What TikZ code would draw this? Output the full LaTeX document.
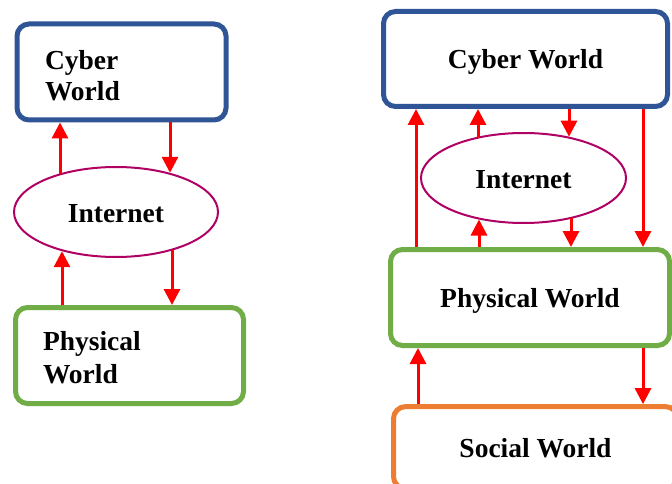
\documentclass[tikz,border=0pt]{standalone}
\usepackage{fontspec}
\setmainfont{Liberation Serif}
\usetikzlibrary{arrows.meta,shapes.geometric}
\definecolor{cwblue}{RGB}{47,85,151}
\definecolor{pwgreen}{RGB}{112,173,71}
\definecolor{swor}{RGB}{237,125,49}
\definecolor{inetc}{RGB}{176,0,100}
\tikzset{
  txt/.style={font=\fontsize{27.5}{31}\selectfont\bfseries},
  wbox/.style={txt, draw, rectangle, rounded corners=12pt, line width=5pt, fill=white},
  inet/.style={txt, draw=inetc, ellipse, line width=2pt, inner sep=0pt, text height=21.5pt, text depth=0pt},
  arr/.style={red, line width=3pt, -{Triangle[length=16pt,width=16pt]}}
}
\begin{document}
\begin{tikzpicture}[x=1pt,y=1pt]
\useasboundingbox (0,0) rectangle (672,-484);
\begin{scope}
\clip (0,0) rectangle (672,-484);
% left diagram
\node[wbox, draw=cwblue, minimum width=209pt, minimum height=96pt, text width=153pt, inner xsep=28pt, align=left] (cyberL) at (121.5,-72) {\rule{0pt}{26pt}Cyber\\World};
\node[inet, minimum width=204pt, minimum height=90pt] (inetL) at (116,-212) {Internet};
\node[wbox, draw=pwgreen, minimum width=228pt, minimum height=96pt, text width=173pt, inner xsep=27.5pt, align=left] (physL) at (129.5,-355.5) {\rule{0pt}{23pt}Physical\\[2pt]World};
\draw[arr] ([xshift=-56pt,yshift=37.6pt]inetL.center) -- ([xshift=-61.5pt]cyberL.south);
\draw[arr] ([xshift=48.5pt]cyberL.south) -- ([xshift=54pt,yshift=39.2pt]inetL.center);
\draw[arr] ([xshift=-67.5pt]physL.north) -- ([xshift=-54pt,yshift=-39.2pt]inetL.center);
\draw[arr] ([xshift=56pt,yshift=-37.6pt]inetL.center) -- ([xshift=42.5pt]physL.north);
% right diagram
\node[wbox, draw=cwblue, minimum width=284pt, minimum height=95pt, text depth=-2pt] (cyberR) at (525.5,-59) {Cyber World};
\node[inet, minimum width=205pt, minimum height=90pt] (inetR) at (523.5,-178) {Internet};
\node[wbox, draw=pwgreen, minimum width=279pt, minimum height=96pt, text depth=-1pt] (physR) at (530,-297.5) {Physical World};
\node[wbox, draw=swor, minimum width=284pt, minimum height=82pt, text depth=0pt] (socR) at (535.5,-447.6) {Social World};
\draw[arr] ([xshift=-114pt]physR.north) -- ([xshift=-109.5pt]cyberR.south);
\draw[arr] ([xshift=-45.5pt,yshift=40.3pt]inetR.center) -- ([xshift=-47.5pt]cyberR.south);
\draw[arr] ([xshift=43.5pt]cyberR.south) -- ([xshift=45.5pt,yshift=41.3pt]inetR.center);
\draw[arr] ([xshift=117.5pt]cyberR.south) -- ([xshift=113pt]physR.north);
\draw[arr] ([xshift=-51pt]physR.north) -- ([xshift=-44.5pt,yshift=-41.5pt]inetR.center);
\draw[arr] ([xshift=47.5pt,yshift=-40pt]inetR.center) -- ([xshift=41pt]physR.north);
\draw[arr] ([xshift=-117.5pt]socR.north) -- ([xshift=-112pt]physR.south);
\draw[arr] ([xshift=113pt]physR.south) -- ([xshift=107.5pt]socR.north);
\end{scope}
\end{tikzpicture}
\end{document}
